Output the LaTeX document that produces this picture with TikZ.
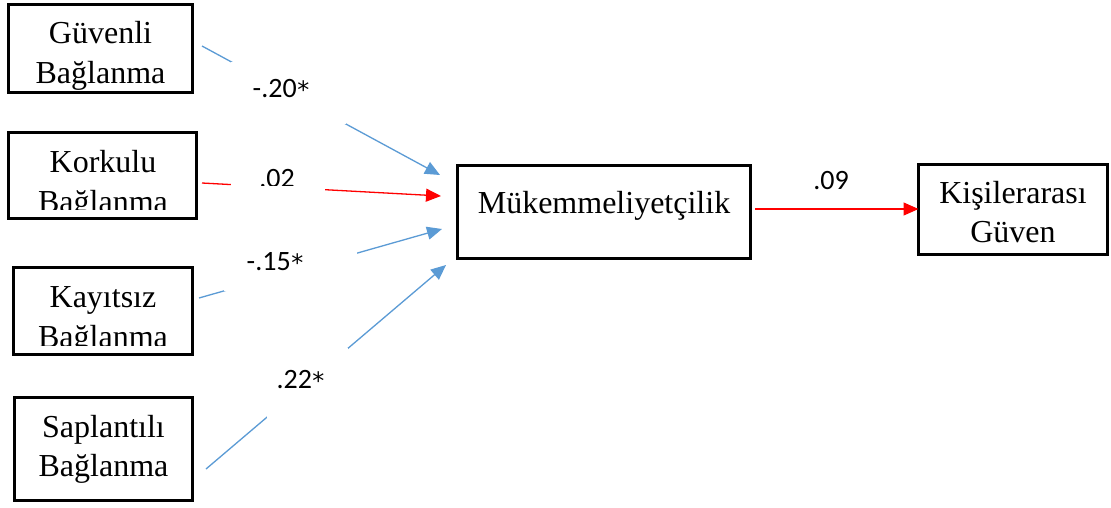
\documentclass[tikz,border=0pt]{standalone}
\usepackage{graphicx}
\usepackage{fontspec}
\setmainfont{Liberation Serif}
\newfontfamily\lblfont{Carlito}
\newfontfamily\starfont{DejaVu Sans}
\usetikzlibrary{arrows.meta}
\definecolor{lineblue}{RGB}{91,155,213}
\definecolor{linered}{RGB}{255,0,0}
\newcommand{\sigstar}{\kern0.5pt\raisebox{-1pt}{{\starfont\fontsize{24}{28}\selectfont *}}}
\begin{document}
\begin{tikzpicture}[x=1pt,y=-1pt,
  boxst/.style={draw=black,line width=2.6pt,inner sep=0pt,outer sep=0pt},
  boxtext/.style={anchor=base,inner sep=0pt,font=\fontsize{32}{40}\selectfont},
  coef/.style={anchor=base,inner sep=0pt,font=\lblfont\fontsize{28}{32}\selectfont},
  bluearrow/.style={draw=lineblue,line width=1.3pt,-{Triangle[length=15pt,width=13pt]}},
  redarrow/.style={draw=linered,line width=1.3pt,-{Triangle[length=15pt,width=13pt]}}]
\useasboundingbox[fill=white] (0,0) rectangle (1111,507);

% boxes
\node[boxst,minimum width=184pt,minimum height=88pt] (gv) at (100.5,48.5) {};
\node[boxst,minimum width=188pt,minimum height=86pt] (ko) at (102.5,175.5) {};
\node[boxst,minimum width=179pt,minimum height=87pt] (ka) at (103,311) {};
\node[boxst,minimum width=178pt,minimum height=103pt] (sa) at (103.5,449) {};
\node[boxst,minimum width=293pt,minimum height=93pt] (mu) at (604,212) {};
\node[boxst,minimum width=189pt,minimum height=90pt] (ki) at (1013,209.5) {};

% box texts
\node[boxtext] (gv1) at (100.5,43) {Güvenli};
\node[boxtext] (gv2) at (100.5,83) {Bağlanma};
\node[boxtext] (ko1) at (103,172) {Korkulu};
\begin{scope}
  \clip (0,0) rectangle (300,209);
  \node[boxtext] (ko2) at (103,212) {Bağlanma};
\end{scope}
\node[boxtext] (ka1) at (103,307.5) {Kayıtsız};
\begin{scope}
  \clip (0,300) rectangle (300,345);
  \node[boxtext] (ka2) at (103,347.5) {Bağlanma};
\end{scope}
\node[boxtext] (sa1) at (103.5,437) {Saplantılı};
\node[boxtext] (sa2) at (103.5,476) {Bağlanma};
\node[boxtext] (mu1) at (604,213) {Mükemmeliyetçilik};
\node[boxtext] (ki1) at (1013,203) {Kişilerarası};
\node[boxtext] (ki2) at (1013,242) {Güven};

% connector end points
\coordinate (s1) at (202,46);  \coordinate (e1) at (440,175);
\coordinate (s2) at (202,183); \coordinate (e2) at (441,196);
\coordinate (s3) at (199,298); \coordinate (e3) at (442,229);
\coordinate (s4) at (206,469); \coordinate (e4) at (446,265);
\coordinate (s5) at (755,209);

\draw[bluearrow] (s1) -- (e1);
\draw[redarrow]  (s2) -- (e2);
\draw[bluearrow] (s3) -- (e3);
\draw[bluearrow] (s4) -- (e4);
\draw[redarrow]  (s5) -- (s5 -| ki.west);

% white label boxes hiding the middle of the connectors
\fill[white] (231,62) rectangle (346,124);
\fill[white] (231,150) rectangle (325,193);
\fill[white] (224,243) rectangle (357,291);
\fill[white] (267,348) rectangle (348,418);

% coefficients
\node[coef] (c1) at (281,97) {-.20\sigstar};
\begin{scope}
  \clip (200,140) rectangle (340,185);
  \node[coef] (c2) at (277,187) {.02};
\end{scope}
\node[coef] (c3) at (275,270) {-.15\sigstar};
\node[coef] (c4) at (300.5,388) {.22\sigstar};
\node[coef] (c5) at (831,189) {.09};
\end{tikzpicture}
\end{document}
